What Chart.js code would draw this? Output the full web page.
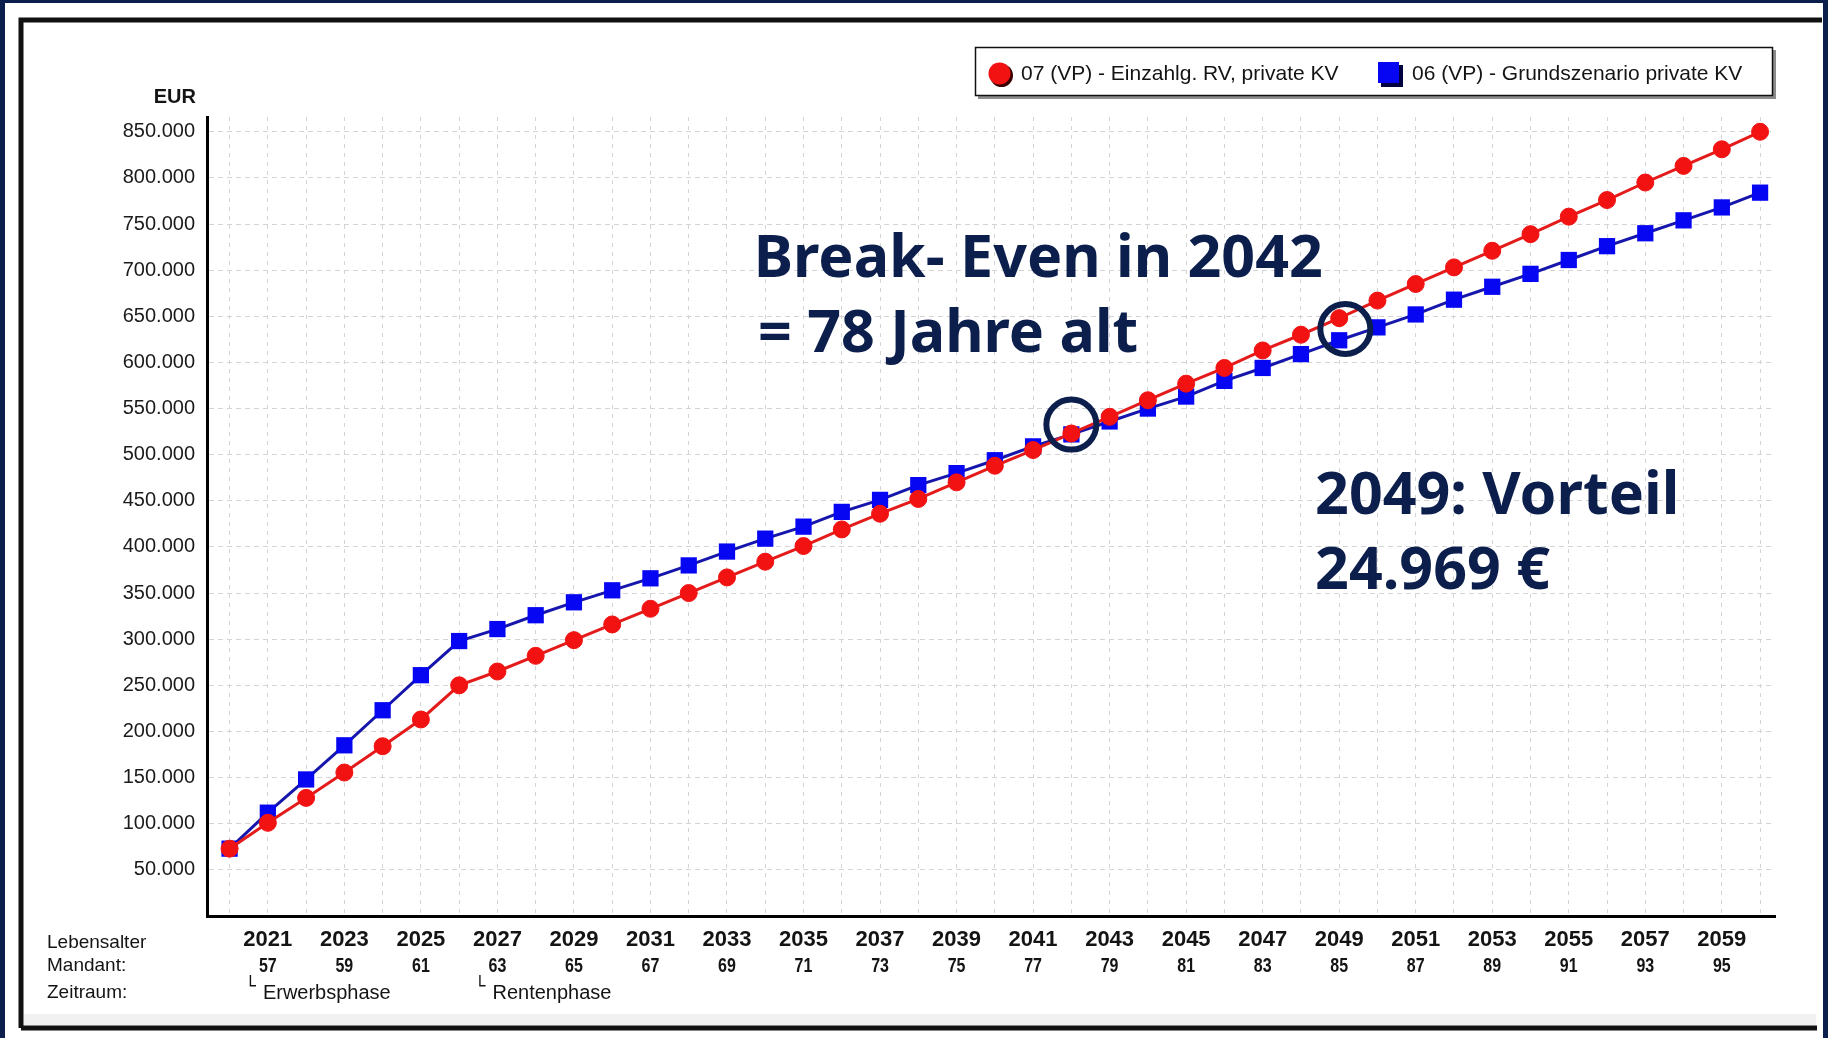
<!DOCTYPE html>
<html>
<head>
<meta charset="utf-8">
<script src="https://cdn.jsdelivr.net/npm/chart.js@4.4.1/dist/chart.umd.min.js"></script>
<style>
  html, body { margin: 0; padding: 0; background: #0c1f4c; }
  #wrap { position: relative; width: 1828px; height: 1038px; }
</style>
</head>
<body>
<div id="wrap"><canvas id="myChart"></canvas></div>
<script>
/* globals Chart:false */

// Jahre (eine Marke pro Jahr)
const years = [
    2020, 2021, 2022, 2023, 2024, 2025, 2026, 2027, 2028, 2029,
    2030, 2031, 2032, 2033, 2034, 2035, 2036, 2037, 2038, 2039,
    2040, 2041, 2042, 2043, 2044, 2045, 2046, 2047, 2048, 2049,
    2050, 2051, 2052, 2053, 2054, 2055, 2056, 2057, 2058, 2059, 2060
]

// 07 (VP) - Einzahlg. RV, private KV
const einzahlung = [
    73000, 101000, 128000, 155500, 184000, 213000, 250000, 265000, 282000, 299000,
    316000, 333000, 350000, 367000, 384000, 401000, 419000, 436000, 452000, 470000,
    488000, 505000, 523000, 541000, 559000, 577000, 594000, 613000, 630000, 648000,
    667000, 685000, 703000, 721000, 739000, 758000, 776000, 795000, 813000, 831000, 850000
]

// 06 (VP) - Grundszenario private KV
const grundszenario = [
    73000, 112000, 148000, 185000, 223000, 261000, 298000, 311000, 326000, 340000,
    353000, 366000, 380000, 395000, 409000, 422000, 438000, 451000, 467000, 480000,
    494000, 509000, 522000, 536000, 550000, 563000, 580000, 594000, 609000, 624000,
    638000, 652000, 668000, 682000, 696000, 711000, 726000, 740000, 754000, 768000, 784000
]

const seriesLabels = ['07 (VP) - Einzahlg. RV, private KV', '06 (VP) - Grundszenario private KV']

// Achsenbeschriftungen
const yearLabels = [
    '2021', '2023', '2025', '2027', '2029', '2031', '2033', '2035', '2037', '2039',
    '2041', '2043', '2045', '2047', '2049', '2051', '2053', '2055', '2057', '2059'
]
const ageLabels = [
    '57', '59', '61', '63', '65', '67', '69', '71', '73', '75',
    '77', '79', '81', '83', '85', '87', '89', '91', '93', '95'
]
const yTicks = [
    50000, 100000, 150000, 200000, 250000, 300000, 350000, 400000, 450000,
    500000, 550000, 600000, 650000, 700000, 750000, 800000, 850000
]
const rowLabels = ['Lebensalter', 'Mandant:', 'Zeitraum:']
const phaseLabels = ['Erwerbsphase', 'Rentenphase']
const phaseStarts = [2020, 2026]

const NAVY = '#0c1f4c'
const SANS = '"Liberation Sans", Arial, sans-serif'

const fmt = v => String(v).replace(/\B(?=(\d{3})+(?!\d))/g, '.')

const extras = {
    id: 'extras',
    beforeDraw(chart) {
        const { ctx, width, height } = chart
        ctx.save()
        ctx.fillStyle = NAVY
        ctx.fillRect(0, 0, width, height)
        ctx.fillStyle = '#ffffff'
        ctx.fillRect(5, 3, 1818, 1035)
        ctx.fillStyle = '#f1f1f1'
        ctx.fillRect(24, 1014, 1792, 11)
        ctx.strokeStyle = '#111'
        ctx.lineWidth = 5
        ctx.beginPath()
        ctx.moveTo(21, 1028)
        ctx.lineTo(21, 20)
        ctx.lineTo(1822, 20)
        ctx.moveTo(21, 1028)
        ctx.lineTo(1817, 1028)
        ctx.stroke()
        ctx.restore()
    },
    afterDraw(chart) {
        const { ctx } = chart
        const xs = chart.scales.x
        const ys = chart.scales.y
        ctx.save()
        ctx.fillStyle = '#141414'

        // Einheit
        ctx.font = 'bold 20px ' + SANS
        ctx.textAlign = 'right'
        ctx.textBaseline = 'middle'
        ctx.fillText('EUR', 196, 97)

        // Zeilenbeschriftung unten links
        ctx.textAlign = 'left'
        ctx.font = '19px ' + SANS
        const rowY = [943, 966, 993]
        rowLabels.forEach((t, i) => ctx.fillText(t, 47, rowY[i]))

        // Alter (schmale, fette Schrift)
        ctx.textAlign = 'center'
        ctx.font = 'bold 20px ' + SANS
        yearLabels.forEach((y, i) => {
            ctx.save()
            ctx.translate(xs.getPixelForValue(Number(y)), 966)
            ctx.scale(0.8, 1)
            ctx.fillText(ageLabels[i], 0, 0)
            ctx.restore()
        })

        // Phasen
        ctx.textAlign = 'left'
        phaseLabels.forEach((t, i) => {
            const px = xs.getPixelForValue(phaseStarts[i] + 0.4)
            ctx.font = '18px "DejaVu Sans", sans-serif'
            ctx.fillText('\u2514', px, 987)
            ctx.font = '20px ' + SANS
            ctx.fillText(t, px + 18, 993)
        })

        // Legende
        ctx.fillStyle = '#8c8c8c'
        ctx.fillRect(978, 50, 798, 49)
        ctx.fillStyle = '#ffffff'
        ctx.fillRect(975, 47, 798, 49)
        ctx.strokeStyle = '#111'
        ctx.lineWidth = 1.5
        ctx.strokeRect(975.5, 47.5, 797, 48)
        const ds = chart.data.datasets
        const ly = 74
        ctx.fillStyle = '#3a0000'
        ctx.beginPath()
        ctx.arc(1001.5, ly + 1.5, 11.5, 0, Math.PI * 2)
        ctx.fill()
        ctx.fillStyle = ds[0].pointBackgroundColor
        ctx.beginPath()
        ctx.arc(999.5, ly - 0.5, 11, 0, Math.PI * 2)
        ctx.fill()
        ctx.fillStyle = '#000040'
        ctx.fillRect(1381, ly - 9, 22, 22)
        ctx.fillStyle = ds[1].pointBackgroundColor
        ctx.fillRect(1378, ly - 12, 21, 21)
        ctx.fillStyle = '#141414'
        ctx.font = '21px ' + SANS
        ctx.textBaseline = 'middle'
        ctx.fillText(ds[0].label, 1021, ly)
        ctx.fillText(ds[1].label, 1412, ly)

        // Hinweise
        ctx.fillStyle = NAVY
        ctx.strokeStyle = NAVY
        ctx.font = 'bold 60px "Noto Sans", "Open Sans", sans-serif'
        ctx.textBaseline = 'alphabetic'
        const sx = 569 / ctx.measureText('Break- Even in 2042').width
        const note = (text, xv, yv) => {
            ctx.save()
            ctx.translate(xs.getPixelForValue(xv), ys.getPixelForValue(yv))
            ctx.scale(sx, 1)
            ctx.fillText(text, 0, 0)
            ctx.restore()
        }
        note('Break- Even in 2042', 2033.70, 693000)
        note('= 78 Jahre alt', 2033.81, 611000)
        note('2049: Vorteil', 2048.37, 436000)
        note('24.969 \u20ac', 2048.37, 354500)

        ctx.lineWidth = 6
        const ring = (xv, yv) => {
            ctx.beginPath()
            ctx.arc(xs.getPixelForValue(xv), ys.getPixelForValue(yv), 25, 0, Math.PI * 2)
            ctx.stroke()
        }
        ring(2042, 532600)
        ring(2049.16, 636200)
        ctx.restore()
    }
}

Chart.defaults.font.family = SANS

const ctx = document.getElementById('myChart')
// eslint-disable-next-line no-unused-vars
const myChart = new Chart(ctx, {
    type: 'line',
    data: {
        datasets: [{
            label: seriesLabels[0],
            data: years.map((y, i) => ({ x: y, y: einzahlung[i] })),
            borderColor: '#e41b1b',
            borderWidth: 3,
            pointStyle: 'circle',
            pointRadius: 8.5,
            pointBorderWidth: 1,
            pointBackgroundColor: '#f21212',
            pointBorderColor: '#f21212',
            lineTension: 0
        }, {
            label: seriesLabels[1],
            data: years.map((y, i) => ({ x: y, y: grundszenario[i] })),
            borderColor: '#1616ac',
            borderWidth: 3,
            pointStyle: 'rect',
            pointRadius: 11.5,
            pointBorderWidth: 0,
            pointBackgroundColor: '#0606f2',
            pointBorderColor: '#0606f2',
            lineTension: 0
        }]
    },
    options: {
        responsive: true,
        maintainAspectRatio: false,
        animation: false,
        layout: { padding: { left: 0, top: 117, right: 53, bottom: 0 } },
        scales: {
            x: {
                type: 'linear',
                min: 2019.41,
                max: 2060.39,
                afterBuildTicks: scale => { scale.ticks = years.map(v => ({ value: v })) },
                afterFit: scale => { scale.height = 122 },
                grid: { color: '#d4d4d4', lineWidth: 1, drawTicks: false },
                border: { color: '#000', width: 3, dash: [4, 5] },
                ticks: {
                    autoSkip: false,
                    maxRotation: 0,
                    padding: 11,
                    color: '#141414',
                    font: { size: 22, weight: 'bold' },
                    callback: v => (yearLabels.includes(String(v)) ? String(v) : '')
                }
            },
            y: {
                min: 0,
                max: 866000,
                afterBuildTicks: scale => { scale.ticks = yTicks.map(v => ({ value: v })) },
                afterFit: scale => { scale.width = 207 },
                grid: { color: '#d4d4d4', lineWidth: 1, drawTicks: false },
                border: { color: '#000', width: 3, dash: [5, 4] },
                ticks: {
                    padding: 12,
                    color: '#1a1a1a',
                    font: { size: 20 },
                    callback: v => fmt(v)
                }
            }
        },
        plugins: {
            legend: { display: false },
            tooltip: { enabled: false }
        }
    },
    plugins: [extras]
})
</script>
</body>
</html>
